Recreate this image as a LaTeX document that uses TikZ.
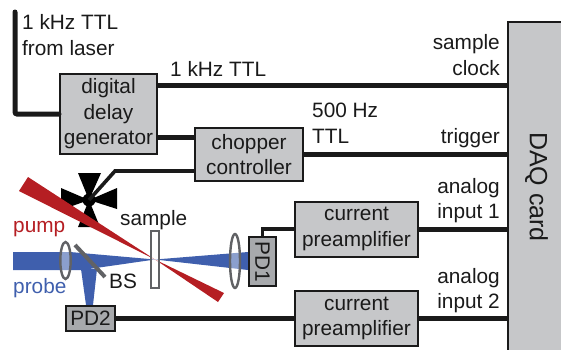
\documentclass[tikz,border=0pt]{standalone}
\usepackage{fontspec}
\setmainfont{Liberation Sans}
\usepackage{xcolor}
\usepackage{tikz}
\usetikzlibrary{positioning}
\definecolor{ink}{HTML}{1A1A1A}
\definecolor{boxfill}{HTML}{C6C7C9}
\definecolor{pdfill}{HTML}{A7A9AC}
\definecolor{pumpred}{HTML}{B51E23}
\definecolor{probeblue}{HTML}{3F5FAD}
\definecolor{optic}{HTML}{616265}

\begin{document}
\begin{tikzpicture}[
  x=1pt,y=-1pt,
  font=\fontsize{20.8}{25.5}\selectfont,
  text=ink,
  unit/.style={draw=ink,fill=boxfill,line width=2pt,inner sep=0pt,align=center},
  pd/.style={draw=ink,fill=pdfill,line width=2pt,inner sep=0pt,align=center},
  wire/.style={draw=ink,line width=5pt},
  thin wire/.style={draw=ink,line width=3.6pt},
  lbl/.style={inner sep=0pt,align=left,anchor=base west},
  rlbl/.style={inner sep=0pt,align=right,anchor=base east},
  lens/.style={draw=optic,fill=white,fill opacity=0.4,line width=2.4pt},
]
\useasboundingbox (0,0) rectangle (561,349);

% beams
\fill[probeblue] (13,252) -- (70,252) -- (155,259.5) -- (248,252) -- (248,270) -- (155,259.5) -- (82,270) -- (13,270) -- cycle;
\fill[probeblue] (81,269) -- (97,269) -- (93,305) -- (86,305) -- cycle;

% chopper blades
\coordinate (blade) at (89,200);
\fill[black] (blade) -- (78,173) -- (101,173) -- cycle;
\fill[black] (blade) -- (78,227) -- (100,227) -- cycle;
\fill[black] (blade) -- (61,188) -- (61,210) -- cycle;
\fill[black] (blade) -- (117,188) -- (117,209) -- cycle;
\fill[black] (blade) circle (6.5);
\fill[pumpred] (19,191) -- (28,177) -- (155,259.5) -- (224,293) -- (218,302) -- (155,259.5) -- cycle;

% boxes
\node[unit,minimum width=97pt,minimum height=80pt] (delay) at (108.5,114) {digital\\delay\\generator};
\node[unit,minimum width=108pt,minimum height=53pt] (chopper) at (249,154.5) {chopper\\controller};
\node[unit,minimum width=123pt,minimum height=55pt] (ampone) at (356.5,229) {current\\preamplifier};
\node[unit,minimum width=123pt,minimum height=55pt] (amptwo) at (356.5,318.5) {current\\preamplifier};
\node[unit,minimum width=57pt,minimum height=330pt] (daq) at (536.5,187) {\rotatebox{-90}{\fontsize{25}{28}\selectfont DAQ card}};
\node[pd,minimum width=27pt,minimum height=49pt] (pdone) at (262.5,261.5) {\rotatebox{-90}{PD1}};
\node[pd,minimum width=49pt,minimum height=25pt] (pdtwo) at (90.5,318.5) {PD2};

% optics
\draw[lens] (65.5,260.5) ellipse (5.2 and 18.5);
\draw[lens] (235,261) ellipse (5 and 27);
\draw[lens] (151,231) rectangle (159,288);
\draw[draw=optic,line width=4pt] (75,245) -- (105,277);

% wires
\coordinate (laser) at (15,12);
\coordinate (clk) at ([yshift=-12pt]delay.north east);
\coordinate (gate) at ([yshift=-23pt]delay.east);
\coordinate (motor) at ([yshift=-16.5pt]chopper.west);
\coordinate (kink) at (115,171);
\draw[wire,line cap=round,rounded corners=2pt] (laser) |- (delay.west);
\draw[wire] (clk) -- (clk -| daq.west);
\draw[wire] (gate) -- (gate -| chopper.west);
\draw[wire] (chopper.east) -- (chopper.east -| daq.west);
\draw[wire] (ampone.east) -- (ampone.east -| daq.west);
\draw[wire] (amptwo.east) -- (amptwo.east -| daq.west);
\draw[wire] (pdtwo.east) -- (amptwo.west);
\draw[thin wire] (pdone.north) |- (ampone.west);
\draw[thin wire] (motor) -- (kink) -- (blade);

% labels
\node[lbl] (lasertxt) at (22,29) {1 kHz TTL};
\node[lbl] (lasertxtb) at (22,55) {from laser};
\node[lbl] (clktxt) at (170,76) {1 kHz TTL};
\node[lbl] (halftxt) at (312,117) {500 Hz};
\node[lbl] (halftxtb) at (312,143) {TTL};
\node[rlbl] (sampletxt) at (500,49) {sample};
\node[rlbl] (clocktxt) at (500,75) {clock};
\node[rlbl] (trigtxt) at (500,143) {trigger};
\node[rlbl] (anaone) at (500,193) {analog};
\node[rlbl] (inone) at (500,218) {input 1};
\node[rlbl] (anatwo) at (500,283) {analog};
\node[rlbl] (intwo) at (500,308) {input 2};
\node[lbl,text=pumpred] (pumptxt) at (13,232) {pump};
\node[lbl,text=probeblue] (probetxt) at (13,293) {probe};
\node[lbl] (bstxt) at (109,288) {BS};
\node[lbl] (sampl) at (120,225) {sample};
\end{tikzpicture}
\end{document}
